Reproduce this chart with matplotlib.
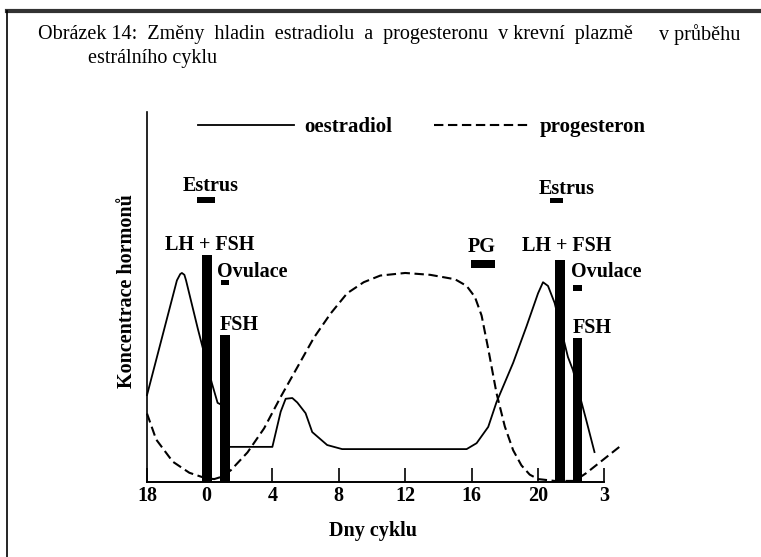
import matplotlib
matplotlib.use("Agg")
import matplotlib.pyplot as plt
from matplotlib.lines import Line2D

# day positions on the axis (0 = ovulation day, 21 = next cycle's day 0)
tick_pos = [-3.55, 0, 4, 8, 12, 16, 20, 24]
tick_labels = ["18", "0", "4", "8", "12", "16", "20", "3"]

# oestradiol (solid line)
est_t = [-3.55, -1.75, -1.55, -1.45, -1.3, -1.2, -0.5, 0.35, 0.7, 1.1, 1.2,
         4.0, 4.5, 4.8, 5.2, 5.5, 6.0, 6.4, 7.3, 8.2, 15.7, 16.3, 17.0, 17.5,
         18.5, 19.3, 20.0, 20.3, 20.6, 21.0, 21.8, 22.1, 22.9, 23.4]
est_y = [23.5, 54.5, 56.2, 56.5, 56.0, 54.5, 41.6, 26.8, 21.4, 20.5, 9.5,
         9.5, 19.0, 22.5, 22.7, 21.5, 18.6, 13.5, 10.0, 8.9, 8.9, 10.5, 14.9, 21.6,
         32.2, 42.0, 51.0, 54.0, 53.0, 48.4, 33.8, 30.3, 16.8, 8.1]

# progesteron (dashed line)
prog_t = [-3.55, -3.0, -2.0, -1.0, 0.0, 0.5, 1.0, 1.5, 2.5, 3.5, 4.5, 5.5,
          6.5, 7.5, 8.5, 9.5, 10.5, 12.0, 13.5, 15.0, 15.7, 16.2, 16.6, 17.0,
          17.5, 18.0, 18.5, 19.0, 19.5, 20.0, 21.0, 22.2, 22.9, 24.9]
prog_y = [18.5, 11.5, 5.5, 2.5, 1.0, 0.8, 1.5, 3.2, 8.0, 14.5, 23.0, 31.0,
          39.0, 45.5, 51.0, 54.0, 55.8, 56.5, 56.0, 54.8, 53.0, 50.0, 45.0, 36.0,
          24.0, 15.0, 8.6, 4.5, 2.0, 0.8, 0.3, 0.3, 2.4, 9.5]

# hormone pulse bars (LH + FSH, FSH)
pulse_t = [0.05, 1.15, 21.3, 22.4]
pulse_h = [61.4, 39.7, 60.0, 38.9]
pulse_w = [0.6, 0.55, 0.6, 0.55]

# small marker bars: Estrus, Ovulace, PG, Estrus, Ovulace
mark_t = [0.0, 1.15, 16.7, 21.1, 22.4]
mark_y = [75.5, 53.2, 57.9, 75.3, 51.6]
mark_h = [1.4, 1.3, 2.2, 1.4, 1.6]
mark_w = [1.1, 0.5, 1.45, 0.8, 0.55]

# labels: text, day, level, alignment
lab_text = ["Estrus", "LH + FSH", "Ovulace", "FSH", "PG", "Estrus",
            "LH + FSH", "Ovulace", "FSH"]
lab_t = [0.3, 0.2, 0.66, 0.8, 16.6, 21.7, 21.7, 22.0, 22.1]
lab_y = [80.0, 64.0, 56.8, 42.4, 63.5, 79.2, 63.8, 56.8, 41.6]
lab_ha = ["center", "center", "left", "left", "center", "center", "center",
          "left", "left"]

plt.rcParams['font.family'] = ['Liberation Serif', 'DejaVu Serif']
fs = 14.5

fig = plt.figure(figsize=(7.61, 5.57), dpi=100)
ax = fig.add_axes([0.1932, 0.1346, 0.6229, 0.6643])

ax.bar(pulse_t, pulse_h, width=pulse_w, color='black', zorder=3)
ax.bar(mark_t, mark_h, width=mark_w, bottom=mark_y, color='black', zorder=3)

ax.plot(est_t, est_y, color='black', lw=1.3, label='oestradiol', zorder=2,
        clip_on=False)
ax.plot(prog_t, prog_y, color='black', lw=1.5, ls=(0, (4.5, 2.2)),
        label='progesteron', zorder=2, clip_on=False)

for s, t, y, ha in zip(lab_text, lab_t, lab_y, lab_ha):
    ax.text(t, y, s, ha=ha, va='center', fontsize=fs, fontweight='bold')

ax.set_xlim(-3.55, 25.0)
ax.set_ylim(0, 100)
ax.spines['top'].set_visible(False)
ax.spines['right'].set_visible(False)
ax.spines['bottom'].set_bounds(-3.55, 24)
ax.spines['left'].set_linewidth(1.2)
ax.spines['bottom'].set_linewidth(1.4)
ax.set_yticks([])
ax.set_xticks(tick_pos)
ax.set_xticklabels(tick_labels, fontsize=fs, fontweight='bold')
ax.tick_params(axis='x', direction='in', length=10, width=1.2, pad=3)

ax.set_xlabel("Dny cyklu", fontsize=fs, fontweight='bold')
ax.xaxis.set_label_coords(0.477, -0.105)
ax.set_ylabel("Koncentrace hormonů", fontsize=fs, fontweight='bold')
ax.yaxis.set_label_coords(-0.021, 0.516)

leg = ax.legend(ncol=2, frameon=False, loc='center left',
                bbox_to_anchor=(198 / 761, 1 - 127 / 557),
                bbox_transform=fig.transFigure, borderaxespad=0, borderpad=0,
                handlelength=4.6, handletextpad=0.5, columnspacing=2.0,
                prop={'size': 15, 'weight': 'bold'})

# caption
fig.text(38 / 761, 1 - 35 / 557,
         "Obrázek 14:  Změny  hladin  estradiolu  a  progesteronu  v krevní  plazmě",
         fontsize=fs, ha='left', va='center')
fig.text(740 / 761, 1 - 35 / 557, "v průběhu", fontsize=fs, ha='right',
         va='center')
fig.text(88 / 761, 1 - 58 / 557, "estrálního cyklu", fontsize=fs, ha='left',
         va='center')

# page frame
fig.add_artist(Line2D([7 / 761, 1], [1 - 11 / 557, 1 - 11 / 557],
                      color='#333333', lw=3, transform=fig.transFigure))
fig.add_artist(Line2D([7 / 761, 7 / 761], [0, 1 - 11 / 557],
                      color='black', lw=1.2, transform=fig.transFigure))

fig.savefig("out.png", dpi=100)
